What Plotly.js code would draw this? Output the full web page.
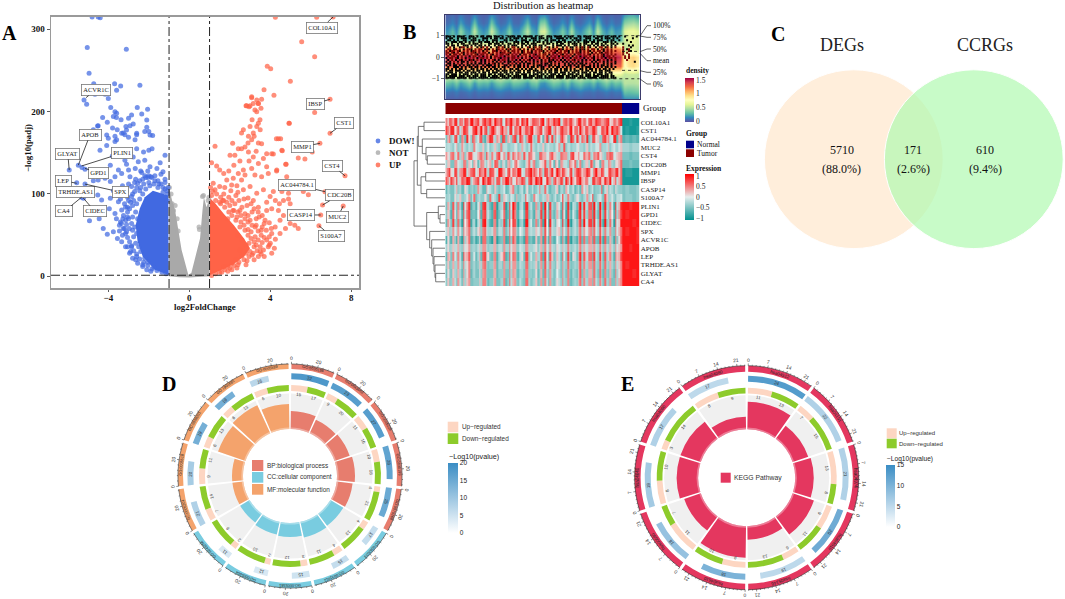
<!DOCTYPE html>
<html><head><meta charset="utf-8">
<script src="https://cdn.plot.ly/plotly-3.0.1.min.js"></script>
<style>html,body{margin:0;padding:0;background:#fff;overflow:hidden}#g{width:1065px;height:599px}.hm image{filter:blur(.55px)}</style>
</head><body><div id="g"></div>
<script>
// ---------- Panel A: volcano ----------
const downOutline=[[-1.02,1.5],[-1.7,8],[-2.3,24],[-2.55,42],[-2.65,62],[-2.45,82],[-2.2,96],[-1.8,104],[-1.04,98]];
const notOutline=[[-1,0],[-1,108],[-0.85,92],[-0.7,80],[-0.38,32],[-0.05,2],[0.1,4],[0.3,22],[0.53,46],[0.65,80],[0.72,96],[0.85,84],[1,95],[1,0],[0.5,-1],[0,-1.5],[-0.5,-1]];
const upOutline=[[1.02,95],[1.3,88],[1.7,76],[2.2,62],[2.7,46],[3.0,34],[2.7,24],[2.2,15],[1.7,9],[1.02,1.6]];
const notPts=[[-0.98,108],[-0.9,100],[-0.85,88],[-0.78,80],[0.7,98],[0.65,97],[0.93,92],[0.97,96],[0.48,60],[0.5,57],[-0.55,55],[-0.6,70],[-0.7,86]];
const downPts=[[-4.8,315],[-4.5,315],[-4.4,314],[-5.04,278],[-3.11,275.7],[-4.95,246.6],[-4.72,234],[-3.69,234],[-3.39,231],[-2.44,232],[-3.59,226],[-5.2,214],[-5.07,209],[-4.66,221],[-4.16,221],[-4,216],[-3.88,205],[-3.67,200],[-3.59,198],[-2.57,205],[-2.06,203],[-2.35,197],[-2.85,196],[-3.0,192],[-3.37,190],[-3.75,194],[-3.6,193],[-4.28,193],[-4.05,187],[-4.53,182.6],[-4.74,178],[-3.79,180],[-3.56,178],[-3.13,182],[-2.77,185],[-2.93,183],[-2.1,181],[-2,176],[-2.2,176],[-1.81,171],[-3.26,174],[-3.18,172],[-3.67,170],[-3.59,166],[-2.6,172],[-2.68,166],[-3.0,169],
[-5.93,129],[-5.48,135],[-5.3,132],[-5.15,130],[-5.56,113.7],[-5.15,112],[-4.74,116],[-4.5,117],[-4.16,119],[-3.9,115],[-3.67,121],[-3.34,125],[-2.93,121],[-5.23,94.7],[-5.32,96],[-4.93,67.6],[-4.25,58],[-4.05,51],[-3.75,54],[-3.34,42],[-4.52,98.7],[-4.33,92.6],[-3.9,94.7],[-3.5,90.6],[-3.34,80.5],[-3.67,76.4],[-3.26,58],[-2.96,58],
[-4.5,183],[-4.08,171.6],[-4,167.6],[-3.67,163.6],[-3.34,173.7],[-3.1,177.7],[-2.6,173.7],[-1.94,171.6],[-2.1,189.8],[-1.84,155],[-2.26,151],[-2,153],[-4.41,153],[-4.08,159],[-3.67,151],[-3.34,147],[-3.18,141],[-2.77,145],[-2.52,139],[-2.2,141],[-1.44,138],[-1.2,147],[-1.94,133],[-3.9,135],[-3.5,129],[-3,129],[-2.67,131],[-3.25,152],[-2.9,150],[-2.6,155],[-3.8,146],[-3.1,136],[-2.4,128],[-1.6,131],[-1.3,127],[-1.7,122],[-2.2,122],[-2.05,120],[-1.9,121],
[-3.75,104],[-3.55,98],[-3.3,110],[-3.1,104],[-3.0,112],[-3.4,94],[-3.2,88],[-3.05,96],[-2.85,109],[-2.7,114],[-3.6,70],[-3.4,66],[-3.55,46],[-3.3,50],[-3.15,36],[-2.95,28],[-2.8,22],[-2.55,16],[-2.3,12],[-2.1,8],[-3.05,72],[-3.25,74],[-3.45,62],[-3.1,54],[-2.85,37],[-2.6,24],[-1.4,124],[-1.2,118],[-1.08,100],[-1.1,92],[-4.6,78],[-4.45,70],[-3.95,82],[-3.05,84],[-2.8,100],[-2.65,118],[-2.35,126],[-2.05,128],[-1.5,112],[-1.7,116],
[-1.15,3],[-1.35,5],[-1.6,7],[-1.85,9],[-2.05,13],[-2.25,17],[-2.45,21],[-2.6,27],[-2.75,31],[-2.85,36],[-2.95,42],[-3.05,47],[-3.15,52],[-3.2,58],[-3.1,63],[-3.15,68],[-3.28,70],[-3.0,70],[-3.05,78],[-2.95,82],[-3.15,84],[-2.9,90],[-3.0,92],[-2.85,97],[-2.75,92],[-2.7,103],[-2.6,108],[-2.55,113],[-2.45,116],[-2.3,118],[-2.15,120],[-2.0,122],[-1.85,120],[-1.55,116],[-1.4,112],[-1.3,108],[-1.2,106],[-1.1,104],[-1.05,108],[-1.2,114],[-2.4,108],[-2.8,86],[-3.35,64],[-3.45,55],[-3.05,36],[-2.9,30],[-2.65,20],[-2.3,14],[-1.9,6],
[-2.4,30],[-2.5,36],[-2.65,40],[-2.75,48],[-2.8,56],[-2.85,64],[-2.8,72],[-2.65,78],[-2.6,88],[-2.45,94],[-2.3,100],[-2.15,106],[-1.95,110],[-1.75,112],[-1.55,108],[-1.3,102],[-2.55,70],[-2.7,60],[-2.6,52],[-2.0,114],[-2.25,112],[-2.45,104],[-2.05,17],[-1.75,11],[-2.2,22]];
const upPts=[[4.25,314.6],[6.29,314.6],[7.1,315],[5.55,285],[6.19,266.8],[3.85,255],[4.02,252],[4.99,237],[3.69,226.7],[4.18,220],[6.95,215],[3.08,217],[3.33,214],[3.57,215],[3.16,210],[3.41,210],[3.54,204],[2.8,207],[3,207],[6.19,199],[3.33,200],[4.94,186],[6.95,173.7],[6.45,161.5],[6.07,151],[4.3,167],[4.51,167],[4.59,152.6],[4.15,148.6],[5.38,143.7],[5.71,142.5],[4.76,136],[4.31,128],[7.69,122],[6.58,86.6],[7.6,85.4],[6.49,74.5],[6.4,61.5],[6.7,102.8],
[3.08,218],[2.83,207],[2.95,206],[3.24,202],[3.41,210],[3.49,190],[3.41,186],[3.33,182],[3,182],[2.67,178],[2.58,174],[3.16,174],[2.92,170],[3.08,166],[3.41,162],[3.57,161],[4.4,167],[4.92,186],[4.57,153],[4.07,149],[3.82,149],[2.75,157],[2.42,155],[2.25,147],[2.01,147],[1.27,158],[2.14,161.6],[2.58,155],[2.92,151],[3.16,145],[3.41,137],[3.66,143],[3.82,133],[4.32,129],[4.78,136],[1.1,138],[1.35,134],[1.5,129],[2.67,129],[2.42,125],[2.75,123],[3.08,131],[3.24,123],[3.57,121],[3.9,125],[4.81,121],[4.57,103],[4.9,101],[4.65,92],[4.9,94],[4.4,80],[4.07,82],[3.82,90],[3.33,101],[3,109],[2.58,117],[2.17,119],[1.85,117],[1.5,109],[1.18,113],[1.27,105],[2.09,111],[2.67,105],[3.66,105],[3.99,97],[4.15,103],[4.98,88],[4.65,74],[4.48,68],[4.24,60],[4.07,52],[3.82,44],[4.07,28],[3.41,24],[3.66,32],[4.98,64],[5.38,58],[5.21,62],[4.48,52],[3.74,68],[3.82,80],[3.41,84],[3.16,92],[5.88,99],[5.63,103],[3.1,190],[3.5,178],[3.2,170],[2.9,162],[2.5,140],[2.95,140],[3.3,152],[2.2,135],[1.95,128],[1.7,125],[2.35,110],[2.9,95],[2.45,92],[3.45,72],[3.6,60],[3.95,65],[3.1,78],[2.85,86],[2.3,98],[1.65,92],[2.1,92],[4.25,45],[3.95,38],[3.55,27],[3.1,26],[2.85,19],[2.4,14],[2.1,8],[1.6,5],[4.45,88],[4.25,92],[5.05,78],[5.2,72],[4.75,58],
[1.1,1],[1.3,3],[1.5,5],[1.75,8],[2.0,10],[2.2,13],[2.45,17],[2.7,20],[2.95,24],[3.15,28],[3.35,31],[3.5,36],[3.6,41],[3.7,47],[3.55,50],[3.4,55],[3.25,60],[3.1,62],[2.9,66],[2.75,70],[2.55,74],[2.4,78],[2.2,80],[2.0,86],[1.85,90],[1.7,92],[1.55,96],[1.35,100],[1.15,103],[1.05,108],[1.1,98],[2.9,57],[3.8,56],[3.95,48],[3.9,36],[3.7,24],[3.2,20],[2.8,14],[2.35,10],[1.9,6],[2.6,84],[2.9,74],[3.3,70],[3.6,74],[3.2,82],
[1.9,70],[2.1,74],[2.3,68],[2.5,60],[2.7,62],[2.9,50],[3.05,46],[3.2,42],[3.2,36],[3.0,30],[2.8,28],[2.6,25],[2.3,20],[2.1,16],[1.9,12],[1.7,11],[2.4,50],[2.6,44],[2.8,38],[2.5,32],[1.55,88],[1.75,84],[1.95,78],[2.15,80],[2.35,72],[2.55,66],[3.4,44],[3.5,30],[3.3,38],[3.05,54],[3.25,48],[2.95,40],[2.75,56],[1.3,92],[1.5,90],[1.7,100],[1.95,96],[2.25,88],[2.5,80],[2.75,76],[3.0,68],[3.3,62],[3.55,56],[4.0,40],[4.2,34],[4.05,58],[3.7,64],[3.4,78],[3.05,88],[2.7,94],[2.4,102],[2.05,104],[1.75,108]];
const geneNames=['COL10A1','ACVR1C','APOB','GLYAT','PLIN1','GPD1','LEP','TRHDE.AS1','SPX','CA4','CIDEC','IBSP','CST1','MMP1','CST4','AC044784.1','CDC20B','CASP14','MUC2','S100A7'];
const genePoint=[[7.1,315],[-5.1,217],[-5.48,135],[-5.93,129],[-5.32,134],[-5.15,131],[-5.56,113],[-5.65,107],[-5.15,112],[-5.32,96],[-5.23,95],[6.95,215],[6.95,173.7],[6.45,161.5],[7.69,122],[6.7,102.8],[6.58,86.6],[6.49,74.5],[7.6,85.4],[6.4,61.5]];
const geneLabelAt=[[6.54,302],[-4.61,226.3],[-4.9,172],[-6.0,148.9],[-3.34,149.4],[-4.46,125.8],[-6.22,116.1],[-5.64,102.4],[-3.42,102.4],[-6.17,78.9],[-4.67,78.9],[6.21,209.6],[7.64,186.2],[5.58,157.4],[7.08,134.3],[5.33,110.9],[7.41,98.4],[5.53,74.5],[7.34,72.4],[7.0,49]];

// ---------- Panel B: distribution ----------
const densityY=[2,1.6,1.2,0.8,0.4,0,-0.4,-0.8,-1.2,-1.6,-2];
const densityZ=[
[.02,.05,.02,.08,.03,.02,.1,.04,.02,.03,.12,.05,.02,.03,.06,.02,.02,.04,.09,.03,.02,.1,.12,.04,.02,.03,.05,.02,.08,.03,.02,.03,.06,.02,.1,.03,.02,.04,.02,.03,.15,.2,.2,.15],
[.06,.12,.05,.2,.08,.06,.3,.1,.05,.09,.32,.12,.05,.08,.18,.06,.05,.12,.28,.1,.06,.35,.38,.12,.05,.08,.16,.06,.25,.08,.05,.1,.18,.06,.3,.1,.05,.12,.06,.08,.38,.42,.45,.4],
[.16,.28,.14,.4,.2,.16,.52,.24,.15,.22,.55,.28,.14,.2,.36,.15,.15,.28,.5,.24,.16,.56,.6,.28,.14,.2,.34,.16,.46,.2,.15,.24,.38,.16,.52,.24,.15,.28,.16,.2,.6,.65,.66,.6],
[.24,.3,.26,.36,.24,.28,.38,.28,.24,.3,.4,.3,.26,.24,.34,.26,.24,.3,.38,.28,.26,.4,.42,.3,.24,.26,.32,.24,.36,.26,.24,.28,.34,.24,.38,.28,.24,.3,.26,.24,.56,.6,.62,.58],
[1.2,1.05,1.3,1,1.25,1.15,1,1.35,1.2,1.1,.98,1.25,1.35,1.15,1.05,1.3,1.2,1.1,1.02,1.25,1.3,1,.96,1.15,1.35,1.2,1.08,1.3,1,1.2,1.35,1.15,1.05,1.25,1,1.2,1.35,1.1,1.25,1.15,.5,.55,.6,.55],
[1.5,1.4,1.55,1.35,1.45,1.55,1.35,1.5,1.55,1.4,1.3,1.45,1.55,1.5,1.4,1.55,1.45,1.4,1.35,1.5,1.55,1.3,1.3,1.4,1.55,1.5,1.4,1.55,1.35,1.45,1.55,1.5,1.4,1.45,1.35,1.5,1.55,1.4,1.5,1.45,.8,.95,1.0,.9],
[1.3,1.35,1.25,1.4,1.3,1.2,1.4,1.25,1.35,1.3,1.4,1.25,1.2,1.35,1.3,1.25,1.35,1.3,1.4,1.25,1.2,1.4,1.45,1.3,1.2,1.3,1.35,1.25,1.4,1.3,1.25,1.3,1.35,1.3,1.4,1.25,1.2,1.35,1.25,1.3,.75,.9,.95,.85],
[.66,.62,.68,.6,.64,.7,.58,.66,.62,.64,.58,.66,.7,.62,.6,.68,.64,.62,.58,.66,.7,.58,.56,.62,.68,.66,.6,.68,.58,.64,.68,.62,.6,.66,.58,.64,.7,.62,.66,.64,.52,.55,.55,.52],
[.3,.24,.34,.2,.28,.36,.18,.3,.26,.28,.18,.3,.34,.26,.22,.32,.3,.26,.18,.3,.34,.18,.16,.26,.34,.3,.22,.34,.2,.28,.34,.26,.22,.3,.18,.28,.36,.24,.32,.28,.5,.48,.48,.5],
[.08,.06,.1,.05,.07,.1,.05,.09,.07,.08,.05,.09,.1,.07,.06,.09,.08,.07,.05,.08,.1,.05,.05,.07,.1,.08,.06,.1,.05,.07,.1,.07,.06,.08,.05,.07,.1,.06,.09,.08,.3,.28,.3,.32],
[.01,.01,.02,.01,.01,.02,.01,.02,.01,.01,.01,.02,.02,.01,.01,.02,.01,.01,.01,.02,.02,.01,.01,.01,.02,.02,.01,.02,.01,.01,.02,.01,.01,.02,.01,.01,.02,.01,.02,.01,.12,.14,.14,.12]];
const speckleRows=[
"###.#.####..###.#.##.###.###.#..####.##.#####.#.##..###.####.#.###..##.####.#.###.##.###.#..#.....#",
"#.##..#.###.#.##...###.#.##.##.#.#.###.#.#..###.###.#.#..####.#.#.##.#..###..##.#.###.#.#.......#..",
".##.#.#..##..###.#.#.#..###...##.##.#..###.#.##.#..##.###.#.##...#.###.##.#.#.###..#.##..#...#.....",
"#..###.##.#.#.#..##.###.#.#.##.#...###.#.##..#.##.#.#.#..###.#.##.#.#..###.##.#..###.#.#.......#...",
"##.#..#.##..#.###.#...##.###.#..##.#.#.##.#.###...#.##.#.#.##..#.###.#.##..#.##.#.#..##.#..#.......",
".#.##.#..###.#.#.##.#.#..#.##.#.#.###..#.#.#.##.##.#...#.###.#.#..##.#.#.##.#.#.##.#.#.#......#.#..",
"#.r.#..#rr.#.r..#.#r.r.#..#r.r#.#.rr.#.#..r#.#r.r#..r#.#.r..#.r.##.r.#r#.r#..#.rr.#r.#.r...r...#...",
".rr.#r.r.#.rr#.r.rr.#r#.r.#r.r.#r#.r.r#.r.#.r#.rr#.r.#.rr.#r#.r.r#.r.#r#.r.rr.#.r#.r.r.....r.#r....",
"r.#rr.r#.r.r.#rr.r.#.r..rr#.r.r.#.rr.r.#r.r.#.r.rr#.r.r.r#.r.rr#.r.r.#.r.r#.r.rr.#.r.r.r...r..r#...",
"rr.r#.r.r#.r.rr#.r.rr.#.r.r.#rr.r#.r.r.#r.rr#.r.r.#r.r.r#.rr.r.#.r.rr#.r.r.#.r.r#.rr.r.....r.r.....",
"r.#.rr.r.#.r.r.r#.rr.r.r#.r.rr.r#.r.r.#.rr.r.r#.r.rr.#.r.r.r#.r.r.#.rr.r.r#.r.r.r#.r.r.r...r..r....",
".r.rr.#.r.r.#.rr.r.#.r.#.rr.r.#.r.rr.#.r.r.#.r.rr.r.#.r.r.#.rr.r.#.r.#.rr.r.#.r.r#.rr.r.....r.r....",
"#.rr.r#.r.#.r.r.#.rr.r.#.r.r#.r.#.rr.r.#.r.r#.r.#.r.r#.rr.r.#.r.#.rr.r.#.r.r#.r.r.#.rr.r....r.r....",
".#.r.#.r#.r.#r#.r.#.#.r.r#.#.rr.#.r.#.#.r.r#.#.r.#.r.#r#.r.#.#.r.r#.r.#.#.r.#.#r.r.#.#.r.....r.....",
"#.#.r.#.##.#.r.#..#.#.r.#.#.r.#.##.#.r.#.#.r.#.#.#.r.##.#.r.#.#.#.r.#.#.r..#.#.r.#.#.r.#.........#.",
".##.#.r.#..#.#.#.##.#.#.r#.#.#..#.r.#.#.#.##.#.r.#.##.#.r.#..#.#.#.#.##.#.r.#.#..#.#.#.#...........",
"#.#.##.#.#.##.#.#..#.###.#.#..##.#.#.##.#.#..#.###.#.##.#.#..#.##.#.#.##..#.#.#.##.#.#.............",
".#..###.#.#.##.##.#.#.#.##.#.##.#..#.##.#.#.##.#.##..#.#.##.#.#.#..##.#.###.#.#.#.##.#.#...........",
"##.#.#.##.#..##.#.##.#.#.##.#.#..##.##.#.#.##.#..##.#.#.##.#.##.#.#..##.#.##.#.#.##.#.#............",
"#.##.###.#.##.#.##.#.##.#.##.###.#.#.##.#.##.###.#.#.##.##.#.##.#.###.#.##.#.#.##.###..............",
".###.#.##.##.###.#.##.#.###.#.##.##.###.#.##.#.###.#.##.##.###.#.##.#.###.#.##.##.#.##.............",
"##.###.#.###.#.##.###.##.#.###.##.#.##.###.#.###.##.#.###.#.##.###.##.#.###.#.###.##.#.............",
"#.####.###.##.###.###.#.###.###.##.####.##.###.###.#.###.####.##.###.##.###.###.####.##............",
"#####.#####.####.#####.#####.####.#####.#####.####.#####.####.#####.####.#####.#####.###..........."];
const groupNames=['Normal','Tumor'];
const exprGenes=['COL10A1','CST1','AC044784.1','MUC2','CST4','CDC20B','MMP1','IBSP','CASP14','S100A7','PLIN1','GPD1','CIDEC','SPX','ACVR1C','APOB','LEP','TRHDE.AS1','GLYAT','CA4'];
// first set of tumour columns (expression x 10)
const colSetA=[
[5,8,3,9,6,-1,7,10,4,8,2,9,6,3,10,5,-2,8,7,4,9,1,6,10,3,7,5,8,-1,9,4,6,10,2,7,8,3,5,9,6,1,8,4,7,3,6,9,2,5,7],
[8,2,9,4,-2,10,6,1,8,3,10,7,-3,9,5,2,10,4,8,-1,6,10,3,7,9,1,5,8,4,10,-2,7,3,9,5,8,1,6,10,2,7,4,9,-1,8,5,3,10,6,4],
[-5,6,-2,8,-6,3,9,-4,5,-1,7,-7,4,8,-3,2,9,-5,1,6,-6,8,-2,4,9,-4,7,-1,3,-6,8,5,-3,9,1,-5,6,8,-2,4,9,-3,7,2,-4,8,5,-1,9,3],
[-3,-2,-4,3,-3,-1,-4,-3,5,-2,-3,-4,-1,-3,2,-4,-3,-2,-4,-3,1,-3,-2,-4,6,-3,-2,-3,-4,-1,-3,-2,4,-3,-4,-2,-3,-1,-3,-4,2,-2,-3,-1,-4,-3,3,-2,-3,-1],
[4,-2,6,1,-3,5,2,7,-1,3,6,-4,2,5,-2,8,1,-3,4,6,-1,3,7,-2,5,1,-4,6,3,-1,7,2,-3,5,4,-2,8,1,-1,6,3,-3,5,7,2,-4,4,6,-1,3],
[-3,2,-5,4,-2,6,-4,-1,3,-6,5,-2,1,-4,7,-3,2,-5,4,-1,6,-3,-5,2,-2,5,-4,1,7,-3,-1,4,-6,3,-2,6,1,-4,5,-3,2,7,-5,-1,4,-2,6,-3,1,3],
[3,9,-1,7,4,10,-2,6,8,2,5,9,-3,7,1,10,4,-1,8,6,3,9,-2,5,10,7,1,4,8,-1,9,3,6,10,2,5,-2,8,7,4,9,1,6,3,10,-1,7,5,8,2],
[7,-1,5,9,2,6,10,-3,4,8,1,6,9,3,-2,7,5,10,2,-1,8,4,6,-2,9,3,7,10,1,5,-3,8,4,6,9,-1,3,7,10,2,5,-2,8,6,1,9,4,-1,7,3],
[-6,-4,-5,3,-3,-6,-2,-4,-5,4,-3,-6,-1,-4,2,-5,-3,-6,-2,5,-4,-3,-6,1,-4,-5,-2,-3,6,-5,-4,-1,-6,-3,3,-5,-2,-4,-6,-1,2,-3,-5,-4,7,-2,-5,-3,1,-4],
[-4,-2,-5,-3,2,-4,-1,-5,6,-3,-4,1,-5,-2,-3,8,-4,-1,-5,-2,3,-4,-3,-1,-5,5,-2,-4,-3,2,-5,-1,-4,9,-3,-2,-5,1,-4,-3,4,-1,-5,-2,-3,7,-4,-1,-5,-2],
[-5,-2,7,-6,-3,8,5,-7,-4,-1,-6,9,-3,-8,6,-4,-2,-9,8,10,-5,-3,-7,9,-2,-6,-4,7,10,-8,-3,-5,-1,8,-7,-4,-2,-6,10,9,-3,7,10,-5,-2,9,-4,-1,8,3],
[-4,-3,6,-7,-2,7,6,-6,-5,0,-7,8,-2,-7,7,-5,-1,-8,7,9,-6,-2,-6,8,-3,-7,-3,8,9,-7,-4,-4,-2,7,-8,-3,-1,-7,9,8,-4,6,9,-6,-1,8,-5,0,7,4],
[-6,-1,8,-5,-4,6,4,-8,-3,-2,-5,10,-4,-8,5,-3,-3,-8,9,8,-4,-4,-8,10,-1,-5,-5,6,10,-9,-2,-6,0,9,-6,-5,-3,-5,8,10,-2,8,9,-4,-3,10,-3,-2,6,2],
[-2,-4,4,-3,-1,5,3,-5,-2,1,-4,6,-3,-2,4,-2,-4,-5,6,5,-3,0,-4,5,-2,-3,-1,4,7,-5,-2,-3,2,5,-4,-2,-3,-4,6,4,-1,5,6,-3,0,5,-2,-4,5,3],
[-7,-5,3,-8,-6,5,2,-7,-4,-6,-8,6,-5,-9,4,-6,-5,-8,6,7,-7,-4,-8,6,-5,-7,-6,4,7,-8,-5,-6,-3,5,-8,-6,-4,-7,7,6,-5,4,7,-6,-3,7,-6,-4,5,1],
[-3,-4,2,-2,-3,3,1,-4,-3,-2,-3,4,-4,-3,3,-2,-4,-3,5,3,-4,-1,-3,4,-3,-2,-4,3,5,-3,-2,-4,-1,3,-3,-2,-3,-4,5,3,-2,3,4,-3,-1,4,-3,-2,4,2],
[-6,2,5,-4,-2,7,3,-5,-1,-3,-6,8,1,-6,5,-3,2,-7,7,6,-5,-2,-6,8,-1,-4,-3,6,8,-6,2,-4,-2,6,-5,-3,1,-5,9,7,-2,6,8,-4,-1,7,2,-3,5,3],
[-4,-5,3,-3,-2,5,1,-5,-3,-4,-3,6,-5,-4,4,-3,-5,-4,6,4,-4,-2,-4,6,-3,-3,-5,4,7,-4,-3,-5,-2,4,-4,-3,-4,-4,7,5,-3,4,6,-4,-2,6,-4,-3,4,2],
[-5,-4,2,-4,-3,4,1,-6,-3,-5,-4,5,-5,-5,3,-4,-4,-5,5,4,-5,-3,-5,5,-4,-4,-6,3,6,-5,-3,-4,-3,4,-5,-4,-3,-5,7,4,-4,3,6,-5,-3,5,-5,-4,5,1],
[-4,-5,3,-5,-2,3,2,-5,-4,-4,-3,5,-6,-4,4,-5,-3,-6,6,3,-4,-2,-5,6,-5,-3,-5,4,5,-6,-4,-3,-2,5,-4,-5,-4,-4,6,5,-3,4,5,-4,-2,6,-4,-5,4,3]];
// second set of tumour columns
const colSetB=[
[2,6,9,-2,5,8,3,10,6,1,7,4,9,2,6,8,-1,5,10,3,7,9,4,1,8,6,2,10,5,3,9,7,-2,6,4,8,1,10,3,5,7,2,9,6,4,8,1,6,3,9],
[5,9,1,7,3,8,-1,6,10,4,2,8,5,10,1,7,3,-2,9,6,4,2,8,5,10,3,7,-1,6,9,4,1,8,5,2,10,6,-1,4,8,3,9,5,1,7,10,2,6,8,-1],
[3,-4,7,-2,5,-6,1,8,-3,6,-5,2,9,-1,4,-6,7,3,-4,8,-2,5,-5,9,1,-3,6,-6,8,2,-4,-1,7,3,-5,9,-2,4,6,-3,-5,8,1,-4,7,3,-2,9,-6,5],
[-2,-3,-1,-4,4,-3,-2,-4,-1,-3,2,-3,-4,-2,-3,5,-2,-4,-3,-1,-4,3,-3,-2,-1,-4,-3,2,-2,-3,-4,-1,-3,7,-2,-4,-3,1,-3,-2,-4,-3,-1,4,-3,-2,-4,-1,-3,2],
[1,5,-2,6,3,-4,7,2,-1,5,3,8,-3,1,6,-1,4,7,-2,3,5,-3,2,6,1,-4,7,3,-1,5,2,-2,6,4,-3,7,1,5,-1,3,6,-2,4,1,-3,5,7,-1,2,4],
[2,-5,4,-1,-3,5,2,-6,1,-2,4,-4,3,-1,6,-5,-2,3,-3,5,1,-4,-2,6,3,-5,-1,2,-3,5,-6,1,4,-2,-4,3,6,-1,-5,2,-3,4,1,-6,5,-2,3,-4,1,6],
[6,1,8,-2,5,9,3,7,-1,10,4,2,8,6,-2,9,3,7,1,5,10,-1,6,8,2,4,9,-3,7,5,1,10,3,6,-1,8,4,9,2,5,7,-2,10,3,6,1,8,4,9,6],
[4,8,2,-2,7,5,9,1,6,-1,10,3,8,5,7,-2,4,9,6,1,3,8,-3,7,2,10,5,-1,9,4,6,2,8,-2,5,10,1,7,3,6,-1,9,4,8,2,5,10,3,-2,6],
[-3,-5,-2,-4,-6,1,-5,-3,-4,-1,-6,3,-2,-5,-4,-3,-1,-5,2,-4,-6,-2,-3,-5,-1,-4,5,-3,-2,-6,-4,2,-3,-5,-1,-4,-6,-2,4,-3,-5,-1,-4,-3,-6,2,-2,-5,-3,-4],
[-3,-5,1,-2,-4,-3,4,-1,-5,-2,-4,-3,6,-1,-5,-4,2,-3,-1,-5,-4,-2,7,-3,-4,-1,-5,-2,3,-4,-3,-5,-1,-2,5,-4,-3,-1,-5,-2,-3,8,-4,-1,-5,2,-3,-4,-2,-1],
[3,-6,-2,5,-8,-1,9,-4,-7,3,8,-2,-6,5,-9,-3,7,-5,-1,6,-8,-2,9,-4,-6,4,-3,-7,-1,8,-5,2,-6,-2,9,-8,-3,5,-4,-1,7,-6,-2,10,-7,-3,5,-8,-2,9],
[2,-7,-1,4,-7,-2,8,-5,-6,4,7,-3,-5,6,-8,-2,6,-6,-2,5,-7,-1,8,-5,-5,3,-4,-6,-2,7,-6,3,-7,-1,8,-7,-4,6,-3,-2,6,-7,-3,9,-6,-2,4,-7,-3,8],
[4,-5,-3,6,-9,0,8,-3,-8,2,9,-1,-7,4,-8,-4,8,-4,0,7,-9,-3,10,-3,-7,5,-2,-8,0,9,-4,1,-5,-3,10,-9,-2,4,-5,0,8,-5,-1,9,-8,-4,6,-9,-1,10],
[2,-3,-1,4,-5,1,6,-3,-4,3,5,-1,-3,4,-5,-2,5,-3,0,4,-5,-2,6,-3,-3,2,-2,-4,0,6,-3,1,-4,-1,6,-5,-2,3,-3,0,4,-4,-1,7,-4,-2,4,-5,-1,6],
[1,-7,-4,3,-9,-3,6,-6,-8,1,6,-5,-7,3,-9,-5,5,-7,-4,4,-8,-5,7,-6,-7,2,-5,-8,-3,5,-7,0,-7,-4,7,-9,-5,3,-6,-4,5,-7,-5,8,-8,-5,3,-8,-4,7],
[1,-3,-2,3,-4,-1,4,-3,-4,2,4,-2,-3,3,-4,-2,4,-3,-1,3,-4,-2,5,-3,-3,1,-2,-4,-1,4,-3,1,-3,-2,5,-4,-2,2,-3,-1,3,-3,-2,5,-4,-2,3,-4,-1,4],
[3,-5,-1,5,-7,2,7,-4,-6,3,7,-2,-5,4,-7,1,6,-5,-1,5,-7,1,8,-4,-5,3,-3,-7,-1,7,-5,2,-6,-1,8,-7,-2,4,-4,2,6,-6,-2,8,-6,-3,5,-7,2,8],
[2,-4,-3,4,-5,-2,5,-4,-5,2,5,-3,-4,3,-6,-3,4,-4,-2,4,-5,-3,6,-4,-4,2,-3,-5,-2,5,-4,1,-5,-3,6,-5,-3,3,-4,-2,4,-5,-3,6,-5,-3,3,-5,-2,5],
[1,-5,-3,3,-6,-3,5,-4,-5,1,4,-4,-5,3,-6,-4,4,-5,-3,3,-6,-3,5,-4,-5,1,-4,-6,-3,4,-5,0,-5,-3,5,-6,-4,2,-5,-3,3,-5,-3,6,-6,-4,3,-6,-3,5],
[2,-4,-2,4,-5,-3,4,-5,-4,2,5,-3,-4,2,-5,-3,5,-4,-2,4,-5,-4,6,-3,-4,2,-4,-5,-2,4,-5,1,-4,-3,5,-6,-3,3,-4,-2,4,-5,-2,5,-5,-3,4,-5,-3,5]];
const exprNormal=[[-10,-10,-9,-10,-10],[-10,-9,-10,-10,-9],[-7,-6,-7,-6,-7],[-3,-3,-4,-3,-3],[-5,-5,-6,-5,-5],[-6,-6,-5,-6,-6],[-10,-9,-9,-10,-10],[-10,-10,-10,-10,-10],[-5,-4,-5,-5,-4],[-5,-4,-4,-5,-4],[10,10,9,10,10],[10,9,10,10,10],[10,10,10,9,10],[10,9,10,10,9],[10,10,10,10,9],[10,10,9,10,10],[10,10,10,10,10],[10,9,10,10,10],[10,10,10,9,10],[10,10,10,10,10]];
// dendrogram merges: [left node, right node, height]; nodes >= 20 refer to earlier merges
const dendroMerges=[[0,1,21],[4,5,17.7],[3,21,19],[2,22,22.7],[20,23,26.7],[6,7,19.3],[8,9,18.3],[25,26,24],[24,27,27.7],[11,12,5],[10,29,6.7],[18,19,9.3],[17,31,10],[16,32,11],[15,33,12],[14,34,13.3],[13,35,15.3],[30,36,18.3],[28,37,31]];
const quantileLabels=['100%','75%','50%','mean','25%','0%'];

// ---------- Panel C: Venn ----------
const vennNames=['DEGs','CCRGs'];
const vennCentre=[[98.8,139.2],[218.8,139.2]];
const vennRadius=[89.4,89.4];
const vennCounts=['5710','171','610'];
const vennShares=['(88.0%)','(2.6%)','(9.4%)'];

// ---------- Panel D: GO circle ----------
const dTerms=['GO:0030198','GO:0043062','GO:0045229','GO:0030199','GO:0070268','GO:0062023','GO:0031012','GO:0005581','GO:0005604','GO:0043256','GO:0005201','GO:0005518','GO:0008201','GO:1901681','GO:0005539'];
const dColours=['#E77D6E','#E77D6E','#E77D6E','#E77D6E','#E77D6E','#79CCE0','#79CCE0','#79CCE0','#79CCE0','#79CCE0','#F4A36C','#F4A36C','#F4A36C','#F4A36C','#F4A36C'];
const dUp=[15,9,11,10,4,4,4,3,2,2,7,9,6,6,6];
const dDown=[17,20,16,18,21,13,11,12,10,9,14,11,13,13,10];
const dLogP=[18,17,17,16,15,6,6,5,4,4,8,9,14,14,7];
const dBar=[65,62,63,65,63,62,63,61,60,58,58,58,76,78,72];
const dLegend=['BP:biological process','CC:cellular component','MF:molecular function'];

// ---------- Panel E: KEGG circle ----------
const eTerms=['hsa04512','hsa04151','hsa04974','hsa04510','hsa05146','hsa04610','hsa00590','hsa04640','hsa04060','hsa04080'];
const eUp=[11,7,13,9,6,8,11,8,3,8];
const eDown=[13,15,8,11,13,10,7,10,14,9];
const eLogP=[13,6,6,11,5,10,8,7,6,5];
const eBar=[76,65,67,71,62,80,66,70,70,61];

// ---------- helpers ----------
const W=1065,H=599,SERIF='Liberation Serif',SANS='Liberation Sans';
const PX=x=>x/W, PY=y=>1-y/H;
const shapes=[],ann=[],traces=[];
const txt=(x,y,text,size,o={})=>ann.push(Object.assign({xref:'paper',yref:'paper',x:PX(x),y:PY(y),text,showarrow:false,xanchor:'left',yanchor:'middle',borderpad:0,font:{family:o.family||SERIF,size,color:o.color||'#111',weight:o.weight||400}},o.extra||{}));
const rect=(x0,y0,x1,y1,c)=>shapes.push({type:'rect',xref:'paper',yref:'paper',x0:PX(x0),x1:PX(x1),y0:PY(y0),y1:PY(y1),fillcolor:c,line:{width:0}});
const poly=(pts,c,w)=>{for(let i=1;i<pts.length;i++)shapes.push({type:'line',xref:'paper',yref:'paper',x0:PX(pts[i-1][0]),y0:PY(pts[i-1][1]),x1:PX(pts[i][0]),y1:PY(pts[i][1]),line:{color:c,width:w}});};
const dot=(x,y,r,c)=>shapes.push({type:'circle',xref:'paper',yref:'paper',x0:PX(x-r),x1:PX(x+r),y0:PY(y-r),y1:PY(y+r),fillcolor:c,opacity:.8,line:{width:0}});
const BLUE='#4169E1',RED='#FF6347',GREY='#A9A9A9';
const closed=a=>a.concat([a[0]]);
const mass=(a,c)=>traces.push({type:'scatter',mode:'lines',x:closed(a).map(p=>p[0]),y:closed(a).map(p=>p[1]),fill:'toself',fillcolor:c,line:{width:0},xaxis:'x',yaxis:'y',hoverinfo:'skip'});
const pts=(a,c)=>traces.push({type:'scatter',mode:'markers',x:a.map(p=>p[0]),y:a.map(p=>p[1]),marker:{color:c,size:5,opacity:.72,line:{width:0}},xaxis:'x',yaxis:'y',cliponaxis:true,hoverinfo:'skip'});
mass(notOutline,GREY);mass(downOutline,BLUE);mass(upOutline,RED);
pts(notPts,GREY);pts(downPts,BLUE);pts(upPts,RED);
geneNames.forEach((g,i)=>ann.push({xref:'x',yref:'y',axref:'x',ayref:'y',x:genePoint[i][0],y:genePoint[i][1],ax:geneLabelAt[i][0],ay:geneLabelAt[i][1],text:g,showarrow:true,arrowhead:0,arrowwidth:.8,arrowcolor:'#222',standoff:0,bordercolor:'#777',borderwidth:.8,borderpad:1.5,bgcolor:'#fff',font:{family:SERIF,size:6.5,color:'#222'}}));
[-1,1].forEach(v=>shapes.push({type:'line',xref:'x',yref:'y',x0:v,x1:v,y0:-14.2,y1:315.3,line:{color:'#222',width:1,dash:'dashdot'}}));
shapes.push({type:'line',xref:'x',yref:'y',x0:-6.83,x1:8.38,y0:1.3,y1:1.3,line:{color:'#222',width:1,dash:'dashdot'}});
[['DOW!',141,BLUE],['NOT',152.7,GREY],['UP',165,RED]].forEach(r=>{dot(378,r[1],2.4,r[2]);txt(388,r[1],r[0],9,{weight:700});});
txt(205,307,'log2FoldChange',8.8,{weight:700,extra:{xanchor:'center'}});
txt(28,148,'−log10(padj)',8.8,{weight:700,extra:{xanchor:'center',textangle:-90}});

// density
const nD=densityZ[0].length,dx=55/nD;
const densityX=densityZ[0].map((_,i)=>(i+.5)*dx);
const SPECTRAL=[[0,'#5E4FA2'],[.1,'#3288BD'],[.2,'#66C2A5'],[.3,'#ABDDA4'],[.4,'#E6F598'],[.5,'#FFFFBF'],[.6,'#FEE08B'],[.7,'#FDAE61'],[.8,'#F46D43'],[.9,'#D53E4F'],[1,'#9E0142']];
traces.push({type:'heatmap',x:densityX,y:densityY,z:densityZ,zsmooth:'best',zmin:-.03,zmax:1.58,colorscale:SPECTRAL,xaxis:'x2',yaxis:'y2',hoverinfo:'skip',
 colorbar:{x:PX(685),xanchor:'left',y:PY(78),yanchor:'top',len:44,lenmode:'pixels',thickness:9,thicknessmode:'pixels',xpad:0,ypad:0,outlinewidth:0,tickvals:[0,.5,1,1.5],ticktext:['0','0.5','1','1.5'],ticks:'',tickfont:{family:SERIF,size:7.5,color:'#222'}}});
const nSp=100,nRow=speckleRows.length;
['#','r'].forEach((ch,k)=>{const xs=[],ys=[];speckleRows.forEach((row,j)=>{for(let i=0;i<row.length;i++)if(row[i]===ch){xs.push((i+.5)*55/nSp);ys.push(1-(j+.5)*2/nRow);}});
 traces.push({type:'scatter',mode:'markers',x:xs,y:ys,marker:{symbol:'square',size:2,color:k?'#7a0606':'#000',line:{width:0}},xaxis:'x2',yaxis:'y2',hoverinfo:'skip'});});
[[0,55,1],[0,55,-1],[50,55,.27],[50,55,-.61]].forEach(l=>shapes.push({type:'line',xref:'x2',yref:'y2',x0:l[0],x1:l[1],y0:l[2],y1:l[2],line:{color:'#111',width:.8,dash:'dot'}}));
// quantile leaders
[[[640,36],[647,25.7],[651,25.7]],[[640,36],[647,37.3],[651,37.3]],[[640,51.7],[647,49],[651,49]],[[640,53.3],[647,60.7],[651,60.7]],[[640,70.7],[647,72.3],[651,72.3]],[[640,79],[647,84],[651,84]]].forEach(p=>poly(p,'#222',.7));
quantileLabels.forEach((t,i)=>txt(652,[25.7,37.3,49,60.7,72.3,84][i],t,7.5));

// group strip
traces.push({type:'heatmap',z:[Array.from({length:55},(_,i)=>i<50?1:0)],x:Array.from({length:55},(_,i)=>i+.5),y:[0],zmin:0,zmax:1,showscale:false,colorscale:[[0,'#00008B'],[.5,'#00008B'],[.5,'#8B0000'],[1,'#8B0000']],xaxis:'x3',yaxis:'y3',hoverinfo:'skip'});
txt(642,108.5,'Group',9);

// main heatmap: 100 tumour columns then 5 normal columns
const exprZ=colSetA.map((a,i)=>{const r=[];a.forEach((v,j)=>r.push(v/10,colSetB[i][j]/10));return r.concat(exprNormal[i].map(v=>v/10));});
const exprEdges=[];for(let i=0;i<=100;i++)exprEdges.push(i*.5);for(let i=1;i<=5;i++)exprEdges.push(50+i);
traces.push({type:'heatmap',z:exprZ,x:exprEdges,y:exprGenes.map((_,i)=>i),zmin:-1.1,zmax:1.1,colorscale:[[0,'#00908E'],[.5,'#E6EEEE'],[1,'#FF0000']],xaxis:'x4',yaxis:'y4',hoverinfo:'skip',
 colorbar:{x:PX(685.3),xanchor:'left',y:PY(174),yanchor:'top',len:46,lenmode:'pixels',thickness:9,thicknessmode:'pixels',xpad:0,ypad:0,outlinewidth:0,tickvals:[-1,-.5,0,.5,1],ticktext:['−1','−0.5','0','0.5','1'],ticks:'',tickfont:{family:SERIF,size:7.5,color:'#222'}}});

// dendrogram
const nodeRow=exprGenes.map((_,i)=>i),nodeH=exprGenes.map(()=>0),dX=[],dY=[];
dendroMerges.forEach(m=>{const[a,b,h]=m;dX.push(nodeH[a],h,h,nodeH[b],null);dY.push(nodeRow[a],nodeRow[a],nodeRow[b],nodeRow[b],null);nodeRow.push((nodeRow[a]+nodeRow[b])/2);nodeH.push(h);});
traces.push({type:'scatter',mode:'lines',x:dX,y:dY,line:{color:'#555',width:.8},xaxis:'x5',yaxis:'y5',hoverinfo:'skip'});

// legend labels panel B
txt(685,71,'density',7.5,{weight:700});txt(685,133.5,'Group',7.5,{weight:700});txt(685,168,'Expression',7.5,{weight:700});
rect(686,140.7,694,148.3,'#00008B');rect(686,149.3,694,157,'#8B0000');
txt(696,144.5,groupNames[0],7.5);txt(696,153.2,groupNames[1],7.5);
txt(542.7,6,'Distribution as heatmap',10.5,{extra:{xanchor:'center'}});

// Venn
shapes.push({type:'circle',xref:'x6',yref:'y6',x0:vennCentre[0][0]-vennRadius[0],x1:vennCentre[0][0]+vennRadius[0],y0:vennCentre[0][1]-vennRadius[0],y1:vennCentre[0][1]+vennRadius[0],fillcolor:'#FFEEDB',line:{color:'#fff',width:1}});
shapes.push({type:'circle',xref:'x6',yref:'y6',x0:vennCentre[1][0]-vennRadius[1],x1:vennCentre[1][0]+vennRadius[1],y0:vennCentre[1][1]-vennRadius[1],y1:vennCentre[1][1]+vennRadius[1],fillcolor:'rgba(176,249,176,.7)',line:{color:'#fff',width:1}});
[[841.7,vennNames[0]],[985,vennNames[1]]].forEach(r=>txt(r[0],45,r[1],18,{extra:{xanchor:'center'},color:'#222'}));
[841.7,913.3,985].forEach((x,i)=>{txt(x,150,vennCounts[i],12,{extra:{xanchor:'center'}});txt(x,169,vennShares[i],12,{extra:{xanchor:'center'}});});

// circular panels
function circle(sub,cx,cy,o){
 const n=o.terms.length,step=360/n,gap=o.gap,use=step-gap;
 const starts=o.terms.map((_,i)=>i*step+gap/2);
 const bar=(r0,r1,th,wd,col,extra)=>traces.push({type:'barpolar',subplot:sub,base:th.map(()=>r0),r:th.map((_,i)=>(Array.isArray(r1)?r1[i]:r1)-r0),theta:th,width:wd,marker:Object.assign({color:col,line:{width:0}},extra||{}),hoverinfo:'skip'});
 const mid=starts.map(s=>s+use/2),full=starts.map(()=>use);
 bar(o.rOuter[0],o.rOuter[1],mid,full,o.colours);
 const total=o.up.map((u,i)=>u+o.down[i]);
 const bw=total.map(t=>t*o.unit);
 bar(o.rBlue[0],o.rBlue[1],starts.map((s,i)=>s+bw[i]/2),bw,o.logP,{colorscale:[[0,'#FFFFFF'],[1,'#3A8DC4']],cmin:0,cmax:o.cmax,showscale:true,colorbar:o.colorbar});
 const upW=o.up.map((u,i)=>u/total[i]*use),dnW=o.down.map((d,i)=>d/total[i]*use);
 bar(o.rUD[0],o.rUD[1],starts.map((s,i)=>s+upW[i]/2),upW,o.up.map(()=>'#FDD6C2'));
 bar(o.rUD[0],o.rUD[1],starts.map((s,i)=>s+upW[i]+dnW[i]/2),dnW,o.up.map(()=>'#8DCB2B'));
 bar(o.r0,o.rGrey,mid,full,o.up.map(()=>'#F0F0F0'));
 bar(o.r0,o.bars,mid,full,o.colours);
 traces.push({type:'barpolar',subplot:sub,base:mid.map(()=>o.r0),r:mid.map(()=>1.6),theta:mid,width:full,marker:{color:'#fff',opacity:.35,line:{width:0}},hoverinfo:'skip'});
 const aR=[],aT=[],tR=[],tT=[];
 o.terms.forEach((_,i)=>{
  for(let a=0;a<=use;a+=use/40){aR.push(o.rOuter[1]);aT.push(starts[i]+a);}aR.push(null);aT.push(null);
  const minor=o.tickStep/5;
  for(let k=0,v=0;v*o.unit<=use+.01;k++,v=k*minor){const big=k%5===0;tR.push(o.rOuter[1],o.rOuter[1]+(big?2.2:1.1),null);const t=starts[i]+v*o.unit;tT.push(t,t,null);}
 });
 traces.push({type:'scatterpolar',subplot:sub,mode:'lines',r:aR,theta:aT,line:{color:'#222',width:.6},hoverinfo:'skip'});
 traces.push({type:'scatterpolar',subplot:sub,mode:'lines',r:tR,theta:tT,line:{color:'#222',width:.5},hoverinfo:'skip'});
 const lab=(r,th,text,size,col)=>{const a=th*Math.PI/180;ann.push({xref:'paper',yref:'paper',x:PX(cx+r*Math.sin(a)),y:PY(cy-r*Math.cos(a)),xanchor:'center',yanchor:'middle',text:String(text),textangle:th,showarrow:false,borderpad:0,font:{family:SANS,size,color:col||'#333'}});};
 o.terms.forEach((t,i)=>{
  lab((o.rOuter[0]+o.rOuter[1])/2,mid[i],t,o.termSize,'#222');
  lab((o.rBlue[0]+o.rBlue[1])/2,starts[i]+bw[i]/2,total[i],4.5,'#333');
  lab(o.rUD[0]-3.5,starts[i]+upW[i]/2,o.up[i],4.5,'#444');
  lab(o.rUD[0]-3.5,starts[i]+upW[i]+dnW[i]/2,o.down[i],4.5,'#444');
  for(let v=0;v*o.unit<=use+.01;v+=o.tickStep)lab(o.rOuter[1]+6,starts[i]+v*o.unit,v,5,'#333');
 });
}
circle('polar',290,476,{terms:dTerms,colours:dColours,up:dUp,down:dDown,logP:dLogP,bars:dBar,gap:1.5,unit:.68,tickStep:20,termSize:3.8,cmax:20,
 rOuter:[107,112],rBlue:[96.7,102.7],rUD:[85,91],rGrey:82.5,r0:47,
 colorbar:{x:PX(447.7),xanchor:'left',y:PY(463),yanchor:'top',len:70,lenmode:'pixels',thickness:10,thicknessmode:'pixels',xpad:0,ypad:0,outlinewidth:0,tickvals:[0,5,10,15,20],ticks:'',tickfont:{family:SANS,size:6.5,color:'#222'}}});
circle('polar2',746.7,477.7,{terms:eTerms,colours:eTerms.map(()=>'#E4375F'),up:eUp,down:eDown,logP:eLogP,bars:eBar,gap:1.6,unit:1.437,tickStep:7,termSize:4.5,cmax:15,
 rOuter:[106,112],rBlue:[96,102],rUD:[84.3,90],rGrey:82.5,r0:48.5,
 colorbar:{x:PX(885.7),xanchor:'left',y:PY(465),yanchor:'top',len:62,lenmode:'pixels',thickness:9,thicknessmode:'pixels',xpad:0,ypad:0,outlinewidth:0,tickvals:[0,5,10,15],ticks:'',tickfont:{family:SANS,size:6.5,color:'#222'}}});

// legends for D / E
[['#E77D6E',460,471],['#79CCE0',472,482.7],['#F4A36C',484,494.7]].forEach((r,i)=>{rect(252,r[1],263.3,r[2],r[0]);txt(265.7,(r[1]+r[2])/2,dLegend[i],6.4,{family:SANS,color:'#333'});});
rect(720.7,472.7,730.7,482.7,'#E4375F');txt(732.7,477.7,'KEGG Pathway',6.8,{family:SANS,color:'#333'});
rect(447.7,421.7,458.3,432.3,'#FDD6C2');rect(447.7,433.3,458.3,444,'#8DCB2B');
txt(461,427,'Up−regulated',6.4,{family:SANS,color:'#333'});txt(461,438.6,'Down−regulated',6.4,{family:SANS,color:'#333'});
txt(447.5,456.7,'−Log10(pvalue)',7.2,{family:SANS,color:'#222'});
rect(886.7,428.3,896.7,438.3,'#FDD6C2');rect(886.7,438.7,896.7,448.3,'#8DCB2B');
txt(898.3,433,'Up−regulated',6,{family:SANS,color:'#333'});txt(898.3,443.5,'Down−regulated',6,{family:SANS,color:'#333'});
txt(885.5,459.3,'−Log10(pvalue)',6.6,{family:SANS,color:'#222'});

// panel letters
[['A',9.5,33],['B',409.5,32],['C',778,33.5],['D',169,384],['E',627,384]].forEach(r=>txt(r[1],r[2],r[0],20,{weight:700,color:'#000',extra:{xanchor:'center'}}));

const hidden={visible:false,showgrid:false,zeroline:false,fixedrange:true};
const aTick={family:SERIF,size:9,weight:700,color:'#111'};
const layout={width:W,height:H,margin:{l:0,r:0,t:0,b:0},paper_bgcolor:'#fff',plot_bgcolor:'rgba(0,0,0,0)',showlegend:false,hovermode:false,shapes,annotations:ann,
 xaxis:{domain:[PX(51),PX(359)],range:[-6.83,8.38],anchor:'y',tickvals:[-4,0,4,8],showgrid:false,zeroline:false,showline:true,mirror:true,linecolor:'#9a9a9a',linewidth:1.5,ticks:'outside',ticklen:2,ticklabelstandoff:-1,tickcolor:'#333',tickwidth:.8,tickfont:aTick},
 yaxis:{domain:[PY(288),PY(16.7)],range:[-14.2,315.3],anchor:'x',tickvals:[0,100,200,300],showgrid:false,zeroline:false,showline:true,mirror:true,linecolor:'#9a9a9a',linewidth:1.5,ticks:'outside',ticklen:3,tickcolor:'#333',tickwidth:.8,tickfont:aTick},
 xaxis2:{domain:[PX(445.3),PX(639.7)],range:[0,55],anchor:'y2',showticklabels:false,ticks:'',showgrid:false,zeroline:false,showline:true,mirror:true,linecolor:'#3b3b6b',linewidth:1},
 yaxis2:{domain:[PY(99),PY(15)],range:[-1.94,1.96],anchor:'x2',tickvals:[-1,0,1],showgrid:false,zeroline:false,showline:true,mirror:true,linecolor:'#3b3b6b',linewidth:1,ticks:'outside',ticklen:3,tickcolor:'#333',tickwidth:.7,tickfont:{family:SERIF,size:7.5,color:'#222'}},
 xaxis3:Object.assign({},hidden,{domain:[PX(445.3),PX(639.7)],range:[0,55],anchor:'y3'}),
 yaxis3:Object.assign({},hidden,{domain:[PY(114),PY(103)],range:[-.5,.5],anchor:'x3'}),
 xaxis4:Object.assign({},hidden,{domain:[PX(445.3),PX(639.7)],range:[0,55],anchor:'y4'}),
 yaxis4:{domain:[PY(286),PY(118)],range:[19.5,-.5],anchor:'x4',side:'right',tickmode:'array',tickvals:exprGenes.map((_,i)=>i),ticktext:exprGenes,ticks:'',ticklen:0,showgrid:false,zeroline:false,showline:false,tickfont:{family:SERIF,size:7,color:'#222'}},
 xaxis5:Object.assign({},hidden,{domain:[PX(405),PX(445)],range:[40,0],anchor:'y5'}),
 yaxis5:Object.assign({},hidden,{domain:[PY(286),PY(118)],range:[19.5,-.5],anchor:'x5'}),
 xaxis6:Object.assign({},hidden,{domain:[PX(755),PX(1065)],range:[0,310],anchor:'y6'}),
 yaxis6:Object.assign({},hidden,{domain:[PY(280),PY(20)],range:[260,0],anchor:'x6'}),
 polar:{domain:{x:[PX(168),PX(412)],y:[PY(598),PY(354)]},bgcolor:'rgba(0,0,0,0)',barmode:'overlay',radialaxis:{visible:false,range:[0,122]},angularaxis:{visible:false,direction:'clockwise',rotation:90}},
 polar2:{domain:{x:[PX(625.7),PX(867.7)],y:[PY(598.7),PY(356.7)]},bgcolor:'rgba(0,0,0,0)',barmode:'overlay',radialaxis:{visible:false,range:[0,121]},angularaxis:{visible:false,direction:'clockwise',rotation:90}}
};
Plotly.newPlot('g',traces,layout,{staticPlot:true,displayModeBar:false});
</script></body></html>
